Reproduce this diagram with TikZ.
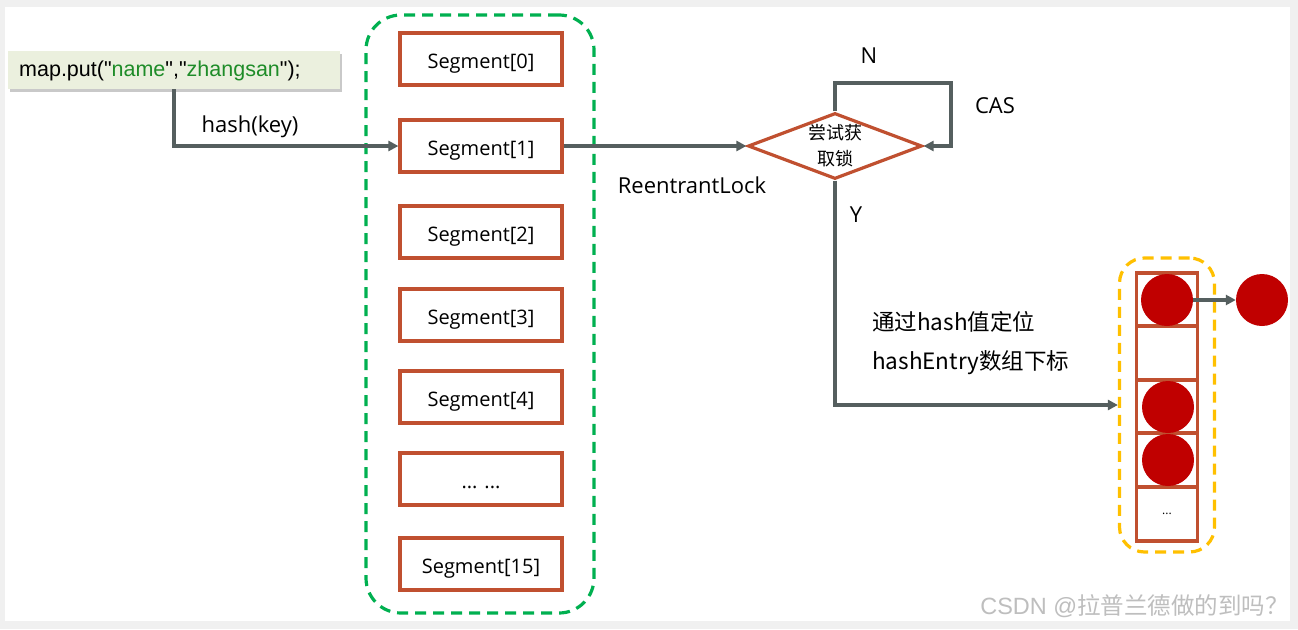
\documentclass[tikz,border=0pt]{standalone}
\usepackage{fontspec}
\setmainfont{Open Sans}
\newfontfamily\cjk{Noto Sans CJK SC}
\newfontfamily\arialf{Liberation Sans}
\usetikzlibrary{arrows.meta,shapes.geometric,shadows}
\definecolor{segred}{RGB}{192,80,48}
\definecolor{dgreen}{RGB}{0,176,80}
\definecolor{dyellow}{RGB}{255,192,0}
\definecolor{cred}{RGB}{192,0,0}
\definecolor{conngray}{RGB}{85,95,95}
\definecolor{putfill}{RGB}{235,240,222}
\definecolor{strgreen}{RGB}{30,140,40}
\definecolor{wmgray}{RGB}{190,190,190}
\tikzset{
  conn/.style={draw=conngray,line width=3.2pt,-{Triangle[length=10pt,width=10pt]}},
  segbox/.style={draw=segred,line width=3.2pt,fill=white,minimum width=162pt,minimum height=52pt,inner sep=0pt,text depth=0pt,text height=19pt,font=\fontsize{20}{22}\selectfont},
  cell/.style={draw=segred,line width=3.2pt,fill=white,minimum width=61pt,minimum height=54pt,inner sep=0pt,font=\fontsize{12}{14}\selectfont},
  ball/.style={circle,fill=cred,draw=none,minimum size=52pt,inner sep=0pt},
  lbl/.style={inner sep=0pt,font=\fontsize{22}{26}\selectfont},
  cjklbl/.style={inner sep=0pt,anchor=west,font=\cjk\fontsize{22.5}{26}\selectfont},
}
\begin{document}
\begin{tikzpicture}[x=1pt,y=-1pt]
\useasboundingbox (0,0) rectangle (1298,629);
\fill[black!6] (0,0) rectangle (1298,629);
\fill[white] (5,7) rectangle (1290,621);
% map.put box
\node[fill=putfill,minimum width=332pt,minimum height=38pt,inner sep=0pt,
  drop shadow={shadow xshift=2pt,shadow yshift=-3pt,opacity=0.35,fill=black!60}] (put) at (174,70) {};
\node[anchor=west,inner sep=0pt,font=\arialf\fontsize{21.5}{24}\selectfont] (puttext) at (19,71)
  {map.put("\textcolor{strgreen}{name}","\textcolor{strgreen}{zhangsan}");};
% green dashed container
\node[draw=dgreen,line width=3.2pt,dash pattern=on 11pt off 7pt,rounded corners=35pt,
  minimum width=228pt,minimum height=598pt,inner sep=0pt] (segs) at (480,314) {};
\node[segbox] (s0) at (481,59) {Segment[0]};
\node[segbox] (s1) at (481,146) {Segment[1]};
\node[segbox] (s2) at (481,232) {Segment[2]};
\node[segbox] (s3) at (481,315) {Segment[3]};
\node[segbox] (s4) at (481,397) {Segment[4]};
\node[segbox] (sd) at (481,479) {... ...};
\node[segbox] (s15) at (481,564) {Segment[15]};
% hash(key)
\draw[conn] (put.south) |- (s1.west);
\node[lbl] (hk) at (250,127) {hash(key)};
% diamond
\node[diamond,draw=segred,line width=3.2pt,minimum width=174pt,minimum height=66pt,inner sep=0pt] (dia) at (835,146) {};
\node[align=center,inner sep=0pt,font=\cjk\fontsize{18}{26}\selectfont] (diatext) at (dia.center) {尝试获\\取锁};
\draw[conn] (s1.east) -- (dia.west);
\node[lbl] (rl) at (692,185) {ReentrantLock};
\coordinate (looptop) at (951,83);
\draw[conn] (dia.north) |- (looptop) |- (dia.east);
\node[lbl] (nn) at (869,56) {N};
\node[lbl] (cas) at (995,106) {CAS};
% hash entry table
\node[draw=dyellow,line width=3.2pt,dash pattern=on 11pt off 7pt,rounded corners=25pt,
  minimum width=95pt,minimum height=294pt,inner sep=0pt] (tab) at (1167,405) {};
\node[cell] (e0) at (1167,300) {};
\node[cell] (e1) at (1167,353) {};
\node[cell] (e2) at (1167,407) {};
\node[cell] (e3) at (1167,460) {};
\node[cell] (e4) at (1167,514) {...};
\node[ball] (b0) at (1167,300) {};
\node[ball] (b2) at (1168,407) {};
\node[ball] (b3) at (1168,460) {};
\node[ball] (b4) at (1262,300) {};
\draw[conn] (b0.east) -- (b4.west);
\draw[conn] (dia.south) |- (tab.west);
\node[lbl] (yy) at (856,215) {Y};
\node[cjklbl] (t1) at (872,322) {通过hash值定位};
\node[cjklbl] (t2) at (872,363) {hashEntry数组下标};
% watermark
\node[anchor=east,inner sep=0pt,text=wmgray,font=\fontsize{23.5}{26}\selectfont] (wm) at (1289,606) {\arialf CSDN @\cjk 拉普兰德做的到吗？};
\end{tikzpicture}
\end{document}
